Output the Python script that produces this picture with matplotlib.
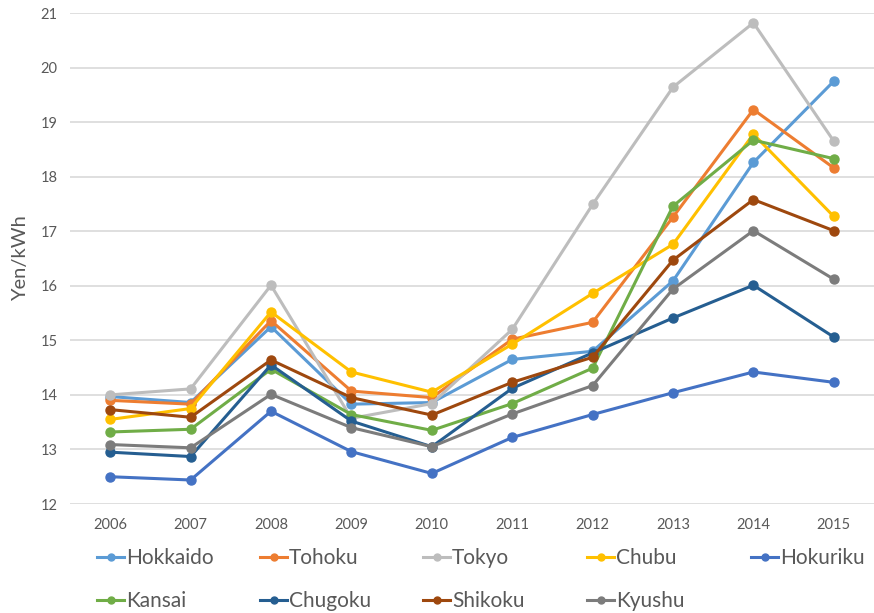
#Import libraries
import matplotlib.pyplot as plt
from matplotlib.lines import Line2D

#Data (Yen/kWh)
years = [2006, 2007, 2008, 2009, 2010, 2011, 2012, 2013, 2014, 2015]

regions = ["Hokkaido", "Tohoku", "Tokyo", "Chubu", "Hokuriku",
           "Kansai", "Chugoku", "Shikoku", "Kyushu"]

hokkaido = [13.97, 13.86, 15.25, 13.83, 13.86, 14.65, 14.80, 16.09, 18.26, 19.75]
tohoku = [13.90, 13.83, 15.36, 14.07, 13.95, 15.02, 15.33, 17.26, 19.23, 18.16]
tokyo = [14.00, 14.11, 16.01, 13.57, 13.84, 15.20, 17.49, 19.64, 20.82, 18.65]
chubu = [13.55, 13.75, 15.52, 14.42, 14.05, 14.93, 15.86, 16.76, 18.78, 17.27]
hokuriku = [12.50, 12.44, 13.70, 12.96, 12.56, 13.22, 13.64, 14.04, 14.42, 14.23]
kansai = [13.32, 13.37, 14.47, 13.64, 13.35, 13.84, 14.49, 17.46, 18.67, 18.33]
chugoku = [12.95, 12.87, 14.55, 13.52, 13.05, 14.12, 14.77, 15.41, 16.01, 15.06]
shikoku = [13.73, 13.59, 14.64, 13.95, 13.63, 14.23, 14.69, 16.47, 17.58, 17.01]
kyushu = [13.09, 13.03, 14.01, 13.40, 13.05, 13.65, 14.17, 15.94, 17.01, 16.12]

values = [hokkaido, tohoku, tokyo, chubu, hokuriku,
          kansai, chugoku, shikoku, kyushu]

#Excel-like colours
colors = ["#5B9BD5", "#ED7D31", "#BDBDBD", "#FFC000", "#4472C4",
          "#70AD47", "#255E91", "#9E480E", "#7C7C7C"]

text_color = "#595959"
plt.rcParams["font.family"] = ["Lato", "DejaVu Sans"]

fig = plt.figure(figsize=(8.74, 6.13), dpi=100)
ax = fig.add_axes([70 / 874, 1 - 504 / 613, 1 - 70 / 874, (504 - 13) / 613])

x = list(range(len(years)))
for name, vals, col in zip(regions, values, colors):
    ax.plot(x, vals, color=col, lw=2.2, marker="o", markersize=6.5,
            label=name, solid_joinstyle="round")

#Axes styling
ax.set_xlim(-0.5, len(years) - 0.5)
ax.set_ylim(12, 21)
ax.set_yticks(range(12, 22))
ax.set_xticks(x)
ax.set_xticklabels([str(y) for y in years])
ax.grid(axis="y", color="#D9D9D9", lw=1.2)
ax.set_axisbelow(True)
for s in ax.spines.values():
    s.set_visible(False)
ax.tick_params(length=0, colors=text_color, labelsize=10.5)
ax.tick_params(axis="y", pad=9)
ax.tick_params(axis="x", pad=10)
ax.set_ylabel("Yen/kWh", color=text_color, fontsize=14.5, labelpad=8)

#Legend: 5 equal-width columns, two rows
col_x = [97, 260, 423, 587, 751]
for i, cx in enumerate(col_x):
    idx = [i, i + 5] if i + 5 < len(regions) else [i]
    handles = [Line2D([], [], color=colors[k], lw=2.2, marker="o", markersize=5)
               for k in idx]
    leg = fig.legend(handles, [regions[k] for k in idx], loc="upper left",
                     bbox_to_anchor=(cx / 874, 1 - 548 / 613), frameon=False,
                     fontsize=15, handlelength=1.3, handletextpad=0.1,
                     labelspacing=1.1, borderpad=0, borderaxespad=0)
    for t in leg.get_texts():
        t.set_color(text_color)

plt.savefig("out.png", dpi=100)
